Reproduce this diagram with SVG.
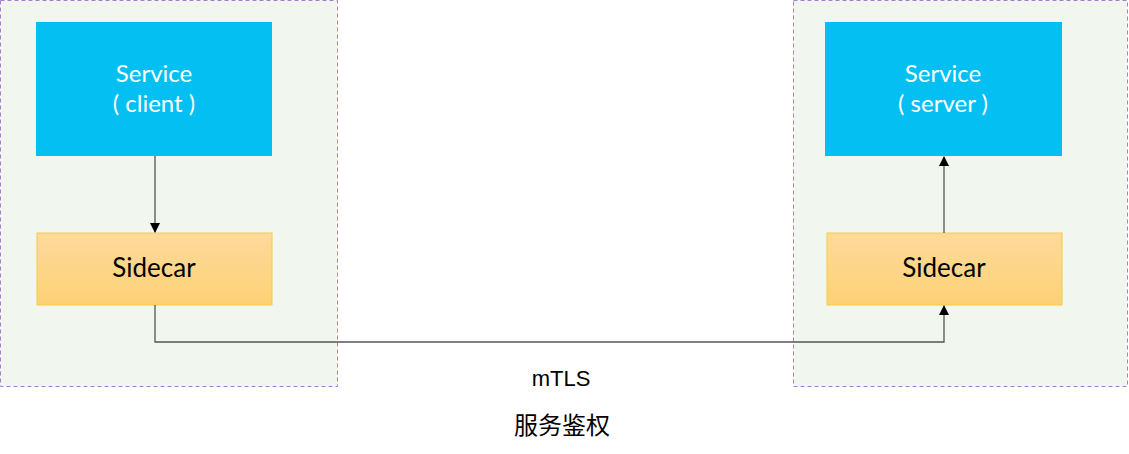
<svg xmlns="http://www.w3.org/2000/svg" width="1129" height="454" viewBox="0 0 1129 454">
<style>
.grp{fill:#f1f6ee;stroke:#a47fd0;stroke-width:1;stroke-dasharray:4 3}
.svc{fill:#04bff2}
.sc{fill:url(#scg);stroke:#f6cb47;stroke-width:1}
.wt{font-family:Lato,"Noto Sans",sans-serif;font-size:24px;fill:#fff;text-anchor:middle}
.bt{font-family:Lato,"Noto Sans",sans-serif;font-size:26px;fill:#000;text-anchor:middle}
.lbl{font-family:"Liberation Sans","Noto Sans CJK SC",sans-serif;fill:#000;text-anchor:middle}
.ln{fill:none;stroke:#555;stroke-width:1.3}
</style>
<defs>
<linearGradient id="scg" x1="0" y1="0" x2="0" y2="1">
<stop offset="0" stop-color="#fdda9c"/>
<stop offset="1" stop-color="#fdd174"/>
</linearGradient>
<marker id="ah" markerWidth="10" markerHeight="10" refX="9" refY="5" orient="auto" markerUnits="userSpaceOnUse">
<path d="M0,0 L10,5 L0,10 z" fill="#000"/>
</marker>
</defs>
<rect width="1129" height="454" fill="#fff"/>
<g id="left-group"><rect class="grp" x="0.5" y="0.5" width="337" height="386"/></g>
<g id="right-group"><rect class="grp" x="793.5" y="0.5" width="334" height="386"/></g>
<g id="service-client">
<rect class="svc" x="36" y="22" width="236" height="134"/>
<text class="wt" x="154" y="82">Service</text>
<text class="wt" x="154" y="112">( client )</text>
</g>
<g id="sidecar-client">
<rect class="sc" x="37" y="233" width="235" height="72"/>
<text class="bt" x="154" y="277">Sidecar</text>
</g>
<g id="service-server">
<rect class="svc" x="825" y="22" width="237" height="134"/>
<text class="wt" x="943" y="82">Service</text>
<text class="wt" x="943" y="112">( server )</text>
</g>
<g id="sidecar-server">
<rect class="sc" x="827" y="233" width="235" height="72"/>
<text class="bt" x="944" y="277">Sidecar</text>
</g>
<g id="connectors">
<line class="ln" x1="155" y1="156" x2="155" y2="232" marker-end="url(#ah)"/>
<line class="ln" x1="944" y1="233" x2="944" y2="157" marker-end="url(#ah)"/>
<polyline class="ln" points="155,305 155,342 944,342 944,306" marker-end="url(#ah)"/>
</g>
<g id="labels">
<text class="lbl" x="561" y="386" font-size="22">mTLS</text>
<text class="lbl" x="562" y="434" font-size="24">服务鉴权</text>
</g>
</svg>
